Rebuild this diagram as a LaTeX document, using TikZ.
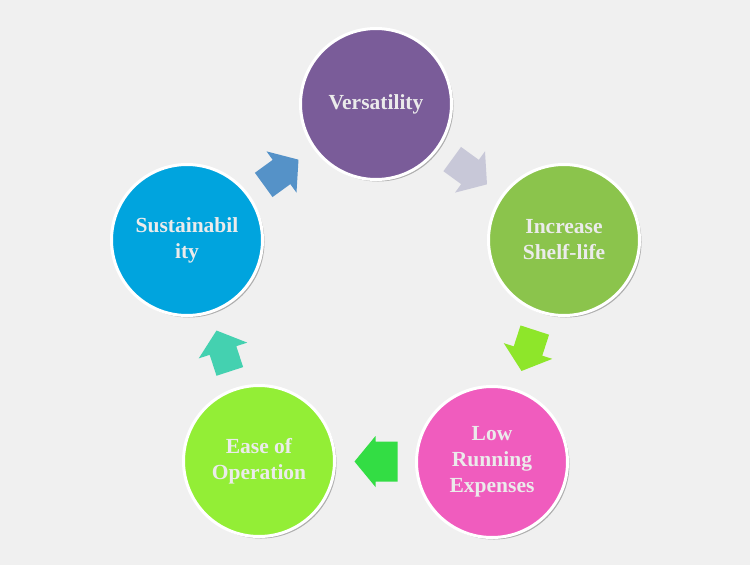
\documentclass[tikz,border=0pt]{standalone}
\usepackage{fontspec}
\setmainfont{Liberation Serif}
\usetikzlibrary{shadows,calc}
\definecolor{bg}{HTML}{F0F0F0}
\definecolor{txt}{HTML}{EBEBEB}
\definecolor{cver}{HTML}{7A5C99}
\definecolor{cinc}{HTML}{8BC44C}
\definecolor{clow}{HTML}{F05CBE}
\definecolor{cease}{HTML}{93EE36}
\definecolor{csus}{HTML}{00A4DE}
\definecolor{aone}{HTML}{5592C8}
\definecolor{atwo}{HTML}{C8C8D8}
\definecolor{athree}{HTML}{8EE62A}
\definecolor{afour}{HTML}{33DD44}
\definecolor{afive}{HTML}{44D1B0}
\newcommand\cycarrow[4]{%
  \fill[#3, shift={(#1)}, rotate=#2] (-22,-#4) -- (0,-#4) -- (0,-25.5) -- (21,0) -- (0,25.5) -- (0,#4) -- (-22,#4) -- cycle;}
\begin{document}
\begin{tikzpicture}[x=1pt,y=-1pt,
  circ/.style={circle, minimum size=151pt, inner sep=0pt, draw=white, line width=3pt,
    text=txt, align=center, font=\fontsize{21.5}{26}\selectfont\bfseries,
    drop shadow={shadow xshift=2pt, shadow yshift=-2pt, opacity=0.35, fill=black!80}}]
\fill[bg] (0,0) rectangle (750,565);
\useasboundingbox (0,0) rectangle (750,565);
\node[circ, fill=cver] (ver) at (376,104) {Versatility};
\node[circ, fill=cinc] (inc) at (564,240) {Increase\\Shelf-life};
\node[circ, fill=clow] (low) at (492,462) {Low\\Running\\Expenses};
\node[circ, fill=cease] (ease) at (259,461) {Ease of\\Operation};
\node[circ, fill=csus] (sus) at (187,240) {Sustainabil\\ity};
\coordinate (m1) at ($(sus)!0.5!(ver)$);
\coordinate (m2) at ($(ver)!0.5!(inc)$);
\coordinate (m3) at ($(inc)!0.5!(low)$);
\coordinate (m4) at ($(low)!0.5!(ease)$);
\coordinate (m5) at ($(ease)!0.5!(sus)$);
\cycarrow{m1}{36}{aone}{15}
\cycarrow{m2}{-36}{atwo}{15}
\cycarrow{m3}{-108}{athree}{15}
\cycarrow{m4}{180}{afour}{20}
\cycarrow{m5}{108}{afive}{14}
\end{tikzpicture}
\end{document}
